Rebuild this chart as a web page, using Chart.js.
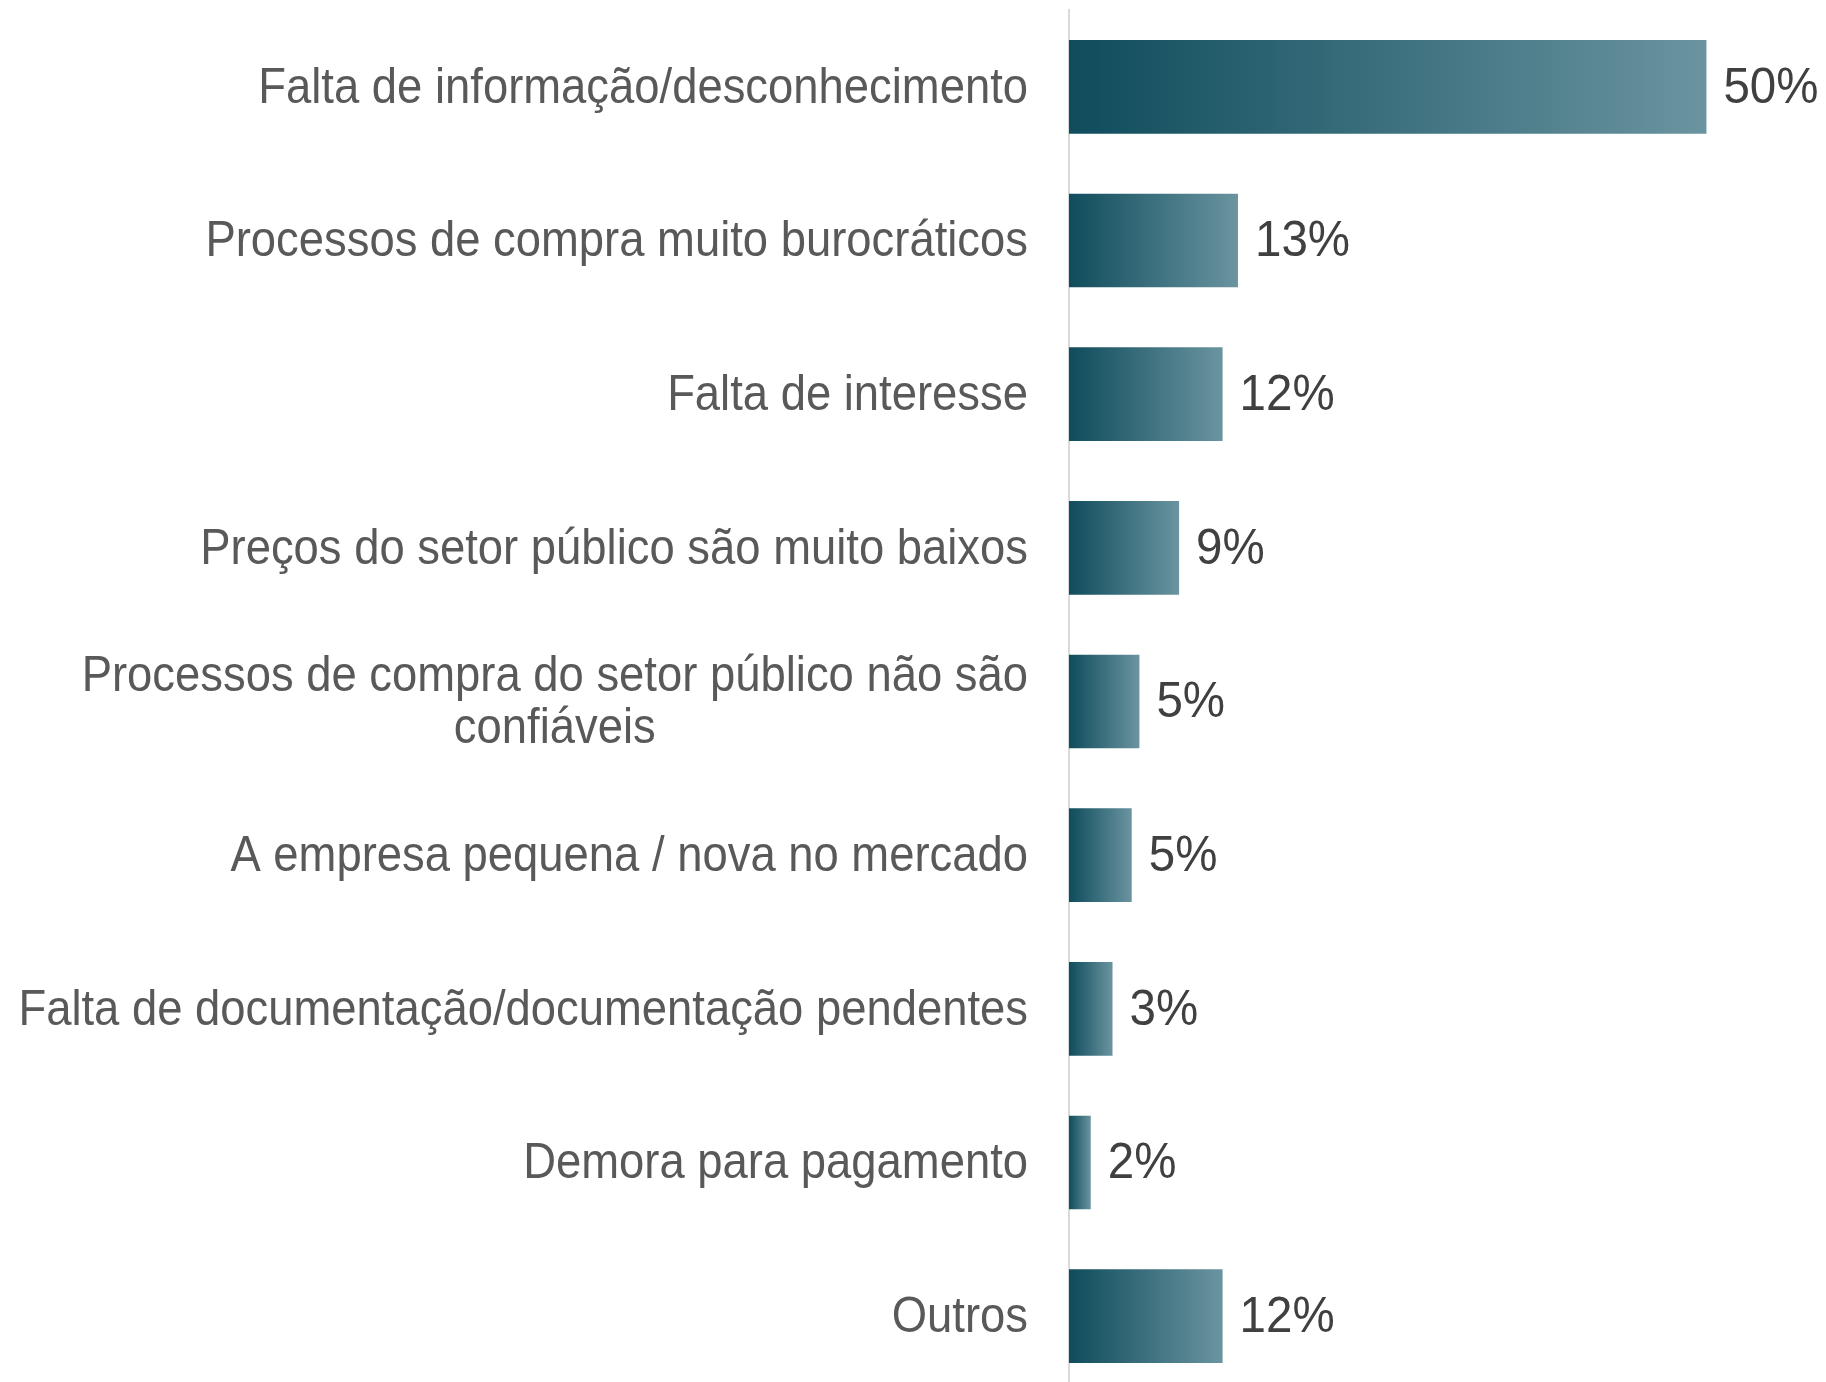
<!DOCTYPE html>
<html><head><meta charset="utf-8">
<script src="https://cdn.jsdelivr.net/npm/chart.js@4/dist/chart.umd.min.js"></script>
<style>
html,body{margin:0;padding:0;background:#fff;overflow:hidden}
#wrap{position:relative;width:1826px;height:1400px}
</style>
</head><body>
<div id="wrap"><canvas id="c"></canvas></div>
<script>
const categories = [
  ['Falta de informação/desconhecimento'],
  ['Processos de compra muito burocráticos'],
  ['Falta de interesse'],
  ['Preços do setor público são muito baixos'],
  ['Processos de compra do setor público não são', 'confiáveis'],
  ['A empresa pequena / nova no mercado'],
  ['Falta de documentação/documentação pendentes'],
  ['Demora para pagamento'],
  ['Outros']
];
const values = [49.8, 13.2, 12.0, 8.6, 5.5, 4.9, 3.4, 1.7, 12.0];
const valueLabels = ['50%', '13%', '12%', '9%', '5%', '5%', '3%', '2%', '12%'];

const FONT = '50px "Liberation Sans", Arial, sans-serif';
const SX = 0.908;
const SXV = 0.95;

const labelPlugin = {
  id: 'labels',
  afterDatasetsDraw(chart) {
    const ctx = chart.ctx;
    const ys = chart.scales.y;
    ctx.save();
    ctx.font = FONT;
    ctx.textBaseline = 'middle';
    const xr = 1028, lh = 52;
    categories.forEach((lines, i) => {
      const y = ys.getPixelForValue(i);
      const widths = lines.map(l => ctx.measureText(l).width * SX);
      const maxW = Math.max(...widths);
      const cx = xr - maxW / 2;
      ctx.fillStyle = '#595959';
      lines.forEach((l, j) => {
        const ly = y + (j - (lines.length - 1) / 2) * lh + 2;
        ctx.save();
        ctx.scale(SX, 1);
        ctx.textAlign = 'center';
        ctx.fillText(l, cx / SX, ly);
        ctx.restore();
      });
    });
    const meta = chart.getDatasetMeta(0);
    meta.data.forEach((bar, i) => {
      const x = bar.x + 17;
      ctx.save();
      ctx.scale(SXV, 1);
      ctx.textAlign = 'left';
      ctx.fillStyle = '#404040';
      ctx.fillText(valueLabels[i], x / SXV, bar.y + 2);
      ctx.restore();
    });
    ctx.restore();
  }
};

new Chart(document.getElementById('c'), {
  type: 'bar',
  data: {
    labels: categories,
    datasets: [{
      data: values,
      backgroundColor: (c) => {
        const ch = c.chart;
        if (!ch.chartArea || !ch.scales.x) return '#3e6b78';
        const xs = ch.scales.x;
        const v = (c.raw !== undefined) ? c.raw : values[c.dataIndex];
        const x0 = xs.getPixelForValue(0);
        const x1 = xs.getPixelForValue(v);
        if (!isFinite(x0) || !isFinite(x1) || x1 <= x0) return '#3e6b78';
        const g = ch.ctx.createLinearGradient(x0, 0, x1, 0);
        g.addColorStop(0, '#0f4c5c');
        g.addColorStop(1, '#6a94a0');
        return g;
      },
      borderWidth: 0,
      categoryPercentage: 1,
      barPercentage: 0.61
    }]
  },
  options: {
    indexAxis: 'y',
    responsive: true,
    maintainAspectRatio: false,
    animation: false,
    layout: { padding: { top: 10, bottom: 7, right: 53, left: 0 } },
    plugins: { legend: { display: false }, tooltip: { enabled: false } },
    scales: {
      x: { display: false, min: 0, max: 55 },
      y: {
        grid: { display: false },
        border: { display: true, color: '#d9d9d9', width: 2 },
        ticks: { display: false },
        afterFit: (s) => { s.width = 1069; }
      }
    }
  },
  plugins: [labelPlugin]
});
</script>
</body></html>
